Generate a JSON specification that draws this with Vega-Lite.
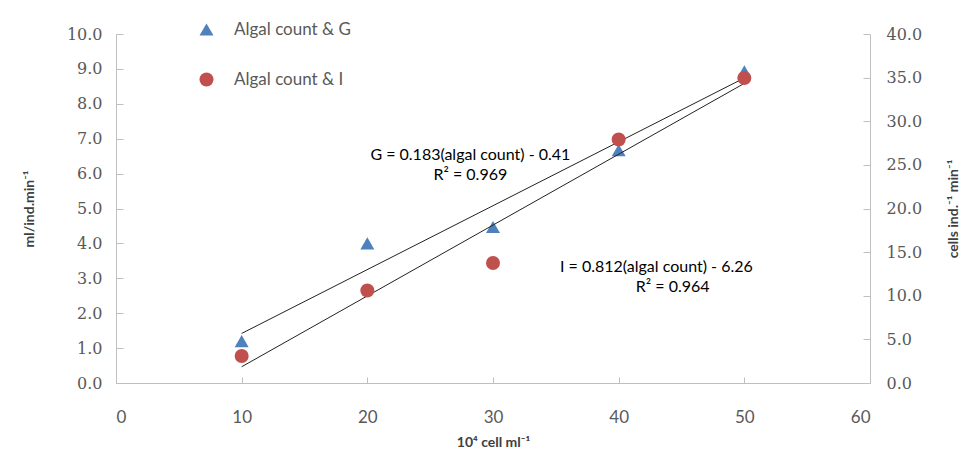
{
  "$schema": "https://vega.github.io/schema/vega-lite/v6.json",
  "width": 754,
  "height": 349,
  "autosize": {"type": "none"},
  "padding": {"left": 116, "top": 34, "right": 94, "bottom": 69},
  "background": "white",
  "config": {
    "view": {"stroke": null},
    "axis": {
      "grid": false,
      "domainColor": "#BFBFBF",
      "tickColor": "#BFBFBF",
      "labelColor": "#595959",
      "titleColor": "#404040",
      "titleFont": "Lato",
      "titleFontWeight": "bold"
    }
  },
  "datasets": {
    "G": [
      {"x": 10, "y": 1.2, "series": "Algal count & G"},
      {"x": 20, "y": 4.0, "series": "Algal count & G"},
      {"x": 30, "y": 4.47, "series": "Algal count & G"},
      {"x": 40, "y": 6.67, "series": "Algal count & G"},
      {"x": 50, "y": 8.93, "series": "Algal count & G"}
    ],
    "I": [
      {"x": 10, "y": 3.1, "series": "Algal count & I"},
      {"x": 20, "y": 10.6, "series": "Algal count & I"},
      {"x": 30, "y": 13.75, "series": "Algal count & I"},
      {"x": 40, "y": 27.9, "series": "Algal count & I"},
      {"x": 50, "y": 34.95, "series": "Algal count & I"}
    ],
    "fitG": [
      {"x": 10, "y": 1.42},
      {"x": 50, "y": 8.74}
    ],
    "fitI": [
      {"x": 10, "y": 1.86},
      {"x": 50, "y": 34.34}
    ],
    "notes": [
      {"x": 28.2, "y": 6.53, "label": "G = 0.183(algal count) - 0.41"},
      {"x": 28.2, "y": 5.96, "label": "R² = 0.969"},
      {"x": 43.0, "y": 3.32, "label": "I = 0.812(algal count) - 6.26"},
      {"x": 44.3, "y": 2.75, "label": "R² = 0.964"}
    ]
  },
  "encoding": {
    "x": {
      "field": "x",
      "type": "quantitative",
      "scale": {"domain": [0, 60], "nice": false, "zero": false},
      "axis": {
        "values": [0, 10, 20, 30, 40, 50, 60],
        "format": "d",
        "tickSize": -6,
        "labelPadding": 32,
        "labelFont": "Lato",
        "labelFontSize": 17,
        "title": "10⁴ cell ml⁻¹",
        "titleFontSize": 14,
        "titlePadding": 10
      }
    }
  },
  "layer": [
    {
      "encoding": {
        "y": {
          "field": "y",
          "type": "quantitative",
          "scale": {"domain": [0, 10], "nice": false, "zero": false},
          "axis": {
            "orient": "left",
            "values": [0, 1, 2, 3, 4, 5, 6, 7, 8, 9, 10],
            "format": ".1f",
            "tickSize": -7,
            "labelPadding": 21,
            "labelFont": "DejaVu Serif",
            "labelFontSize": 16,
            "title": "ml/ind.min⁻¹",
            "titleFontSize": 14,
            "titlePadding": 30
          }
        }
      },
      "layer": [
        {
          "data": {"name": "fitG"},
          "mark": {"type": "line", "color": "#222222", "strokeWidth": 1}
        },
        {
          "data": {"name": "G"},
          "mark": {"type": "point", "filled": true, "opacity": 1, "size": 196},
          "encoding": {
            "shape": {
              "field": "series",
              "type": "nominal",
              "scale": {"domain": ["Algal count & G", "Algal count & I"], "range": ["triangle-up", "circle"]},
              "legend": {
                "orient": "none",
                "legendX": 82,
                "legendY": -13,
                "title": null,
                "symbolSize": 196,
                "symbolStrokeWidth": 0,
                "labelFont": "Lato",
                "labelFontSize": 17,
                "labelColor": "#595959",
                "labelOffset": 19,
                "rowPadding": 32
              }
            },
            "color": {
              "field": "series",
              "type": "nominal",
              "scale": {"domain": ["Algal count & G", "Algal count & I"], "range": ["#4F81BD", "#C0504D"]},
              "legend": {
                "orient": "none",
                "legendX": 82,
                "legendY": -13,
                "title": null,
                "symbolSize": 196,
                "symbolStrokeWidth": 0,
                "labelFont": "Lato",
                "labelFontSize": 17,
                "labelColor": "#595959",
                "labelOffset": 19,
                "rowPadding": 32
              }
            }
          }
        },
        {
          "data": {"name": "notes"},
          "mark": {"type": "text", "font": "Lato", "fontSize": 16, "color": "#000000", "align": "center", "baseline": "middle"},
          "encoding": {"text": {"field": "label", "type": "nominal"}}
        }
      ]
    },
    {
      "encoding": {
        "y": {
          "field": "y",
          "type": "quantitative",
          "scale": {"domain": [0, 40], "nice": false, "zero": false},
          "axis": {
            "orient": "right",
            "values": [0, 5, 10, 15, 20, 25, 30, 35, 40],
            "format": ".1f",
            "tickSize": -7,
            "labelPadding": 23,
            "labelFont": "DejaVu Serif",
            "labelFontSize": 16,
            "title": "cells ind.⁻¹ min⁻¹",
            "titleAngle": 270,
            "titleFontSize": 14,
            "titlePadding": 39
          }
        }
      },
      "layer": [
        {
          "data": {"name": "fitI"},
          "mark": {"type": "line", "color": "#222222", "strokeWidth": 1}
        },
        {
          "data": {"name": "I"},
          "mark": {"type": "point", "filled": true, "opacity": 1, "size": 196},
          "encoding": {
            "shape": {"field": "series", "type": "nominal"},
            "color": {"field": "series", "type": "nominal"}
          }
        }
      ]
    }
  ],
  "resolve": {"scale": {"y": "independent"}, "axis": {"y": "independent"}}
}
